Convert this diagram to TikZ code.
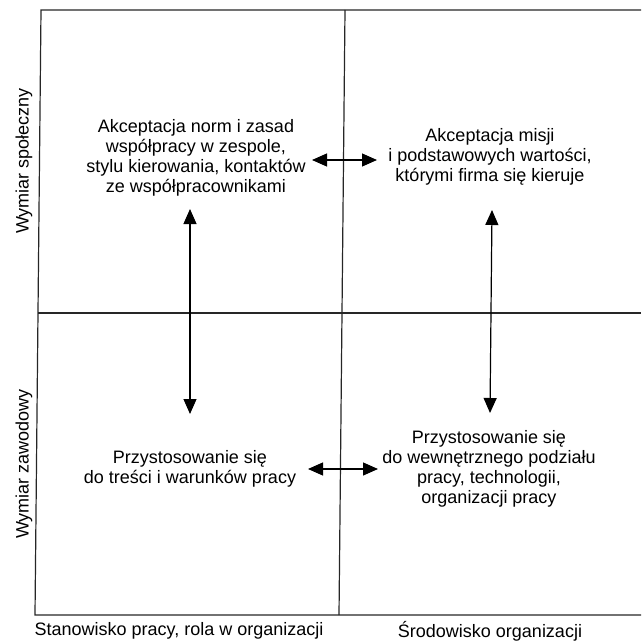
\documentclass[tikz,border=0pt]{standalone}
\usepackage{fontspec}
\setmainfont{Liberation Sans}
\usetikzlibrary{arrows.meta}
\begin{document}
\begin{tikzpicture}[x=1pt,y=-1pt,
  frame/.style={line width=1.2pt,draw=black!85},
  txt/.style={align=center,font=\fontsize{18}{20}\selectfont,inner sep=0pt},
  axlab/.style={font=\fontsize{18}{20}\selectfont,inner sep=0pt},
  arr/.style={line width=1.2pt,{Triangle[length=15pt,width=13pt]}-{Triangle[length=15pt,width=13pt]}}]
\useasboundingbox (0,0) rectangle (641,644);
% frame
\coordinate (tl) at (41,10);
\coordinate (tr) at (641,10);
\coordinate (bl) at (35,615);
\coordinate (br) at (641,615);
\coordinate (mt) at (345,10);
\coordinate (mb) at (339,615);
\coordinate (ml) at (38,313);
\coordinate (mr) at (641,313);
\draw[frame] (tr) -- (tl) -- (bl) -- (br);
\draw[frame] (mt) -- (mb);
\draw[frame] (ml) -- (mr);
% texts
\node[txt] (a) at (196,158) {Akceptacja norm i zasad\\współpracy w zespole,\\stylu kierowania, kontaktów\\ze współpracownikami};
\node[txt] (b) at (490,157) {Akceptacja misji\\i podstawowych wartości,\\którymi firma się kieruje};
\node[txt] (c) at (190,469) {Przystosowanie się\\do treści i warunków pracy};
\node[txt] (d) at (489,469) {Przystosowanie się\\do wewnętrznego podziału\\pracy, technologii,\\organizacji pracy};
\node[axlab,rotate=90] (ys) at (24,161) {Wymiar społeczny};
\node[axlab,rotate=90] (yz) at (24,464) {Wymiar zawodowy};
\node[axlab] (xs) at (179,631) {Stanowisko pracy, rola w organizacji};
\node[axlab] (xo) at (490,631) {Środowisko organizacji};
% arrows
\coordinate (h1a) at (312,160);
\coordinate (h1b) at (377,160);
\coordinate (h2a) at (308,469);
\coordinate (h2b) at (378,469);
\coordinate (v1a) at (190,209);
\coordinate (v1b) at (190,414);
\coordinate (v2a) at (492,210);
\coordinate (v2b) at (490,413);
\draw[arr] (h1a) -- (h1b);
\draw[arr] (h2a) -- (h2b);
\draw[arr] (v1a) -- (v1b);
\draw[arr] (v2a) -- (v2b);
\end{tikzpicture}
\end{document}
